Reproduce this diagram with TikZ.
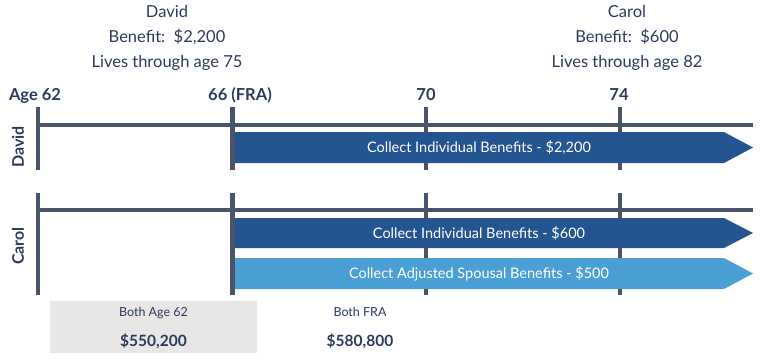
\documentclass[tikz,border=0pt]{standalone}
\usepackage{fontspec}
\setmainfont{Lato}
\usepackage{tikz}
\usetikzlibrary{positioning}
\definecolor{navy}{HTML}{2B3A5E}
\definecolor{slate}{HTML}{4A5468}
\definecolor{dkblue}{HTML}{245590}
\definecolor{ltblue}{HTML}{4A9FD5}
\definecolor{shade}{HTML}{E8E7E6}

\begin{document}
\begin{tikzpicture}[
        x=1pt, y=-1pt,
        head/.style={text=navy, anchor=base, inner sep=0pt, font=\fontsize{16.5}{18}\selectfont},
        agelabel/.style={text=navy, anchor=base, inner sep=0pt, font=\bfseries\fontsize{16.5}{18}\selectfont},
        rowlabel/.style={text=navy, rotate=90, inner sep=0pt, font=\bfseries\fontsize{16}{18}\selectfont},
        axis/.style={draw=slate, line width=4.5pt},
        band/.style={fill=#1},
        bandtext/.style={text=white, inner sep=0pt, font=\fontsize{14.5}{16}\selectfont},
        total/.style={text=navy, anchor=base, inner sep=0pt, font=\fontsize{12.5}{14}\selectfont},
        sum/.style={text=navy, anchor=base, inner sep=0pt, font=\bfseries\fontsize{15.5}{17}\selectfont}
    ]
        \useasboundingbox (0,0) rectangle (768,359);

        % who is who
        \node[head] (dname) at (167,17.5) {David};
        \node[head] (dbenefit) at (167,42) {Benefit:\ \ \$2,200};
        \node[head] (dlife) at (167,67) {Lives through age 75};
        \node[head] (cname) at (627,17.5) {Carol};
        \node[head] (cbenefit) at (627,42) {Benefit:\ \ \$600};
        \node[head] (clife) at (627,67) {Lives through age 82};

        % ages along the top
        \node[agelabel] (a62) at (35,100) {Age 62};
        \node[agelabel] (a66) at (240,100) {66 (FRA)};
        \node[agelabel] (a70) at (426,100) {70};
        \node[agelabel] (a74) at (619,100) {74};

        % the two timelines
        \foreach \x in {38,232.5,426,620} {
            \draw[axis] (\x,107) -- (\x,170);
            \draw[axis] (\x,193) -- (\x,295);
        }
        \draw[axis] (38,125) -- (753,125);
        \draw[axis] (38,210) -- (753,210);

        \node[rowlabel] (drow) at (18,147) {David};
        \node[rowlabel] (crow) at (18,246) {Carol};

        % benefit bands
        \fill[band=dkblue] (235,132) -- (724,132) -- (753,147.5) -- (724,163) -- (235,163) -- cycle;
        \node[bandtext] (dind) at (479,147.5) {Collect Individual Benefits - \$2,200};
        \fill[band=dkblue] (235,218) -- (724,218) -- (753,233) -- (724,248) -- (235,248) -- cycle;
        \node[bandtext] (cind) at (479,233) {Collect Individual Benefits - \$600};
        \fill[band=ltblue] (235,258) -- (724,258) -- (753,273.5) -- (724,289) -- (235,289) -- cycle;
        \node[bandtext] (cspouse) at (479,273.5) {Collect Adjusted Spousal Benefits - \$500};

        % totals
        \node[fill=shade, minimum width=207pt, minimum height=52pt, inner sep=0pt] (box62) at (153.5,327) {};
        \node[total] (t62) at (153.5,316.5) {Both Age 62};
        \node[sum] (s62) at (153.5,346) {\$550,200};
        \node[total] (tfra) at (360,316.5) {Both FRA};
        \node[sum] (sfra) at (360,346) {\$580,800};
    \end{tikzpicture}
\end{document}
